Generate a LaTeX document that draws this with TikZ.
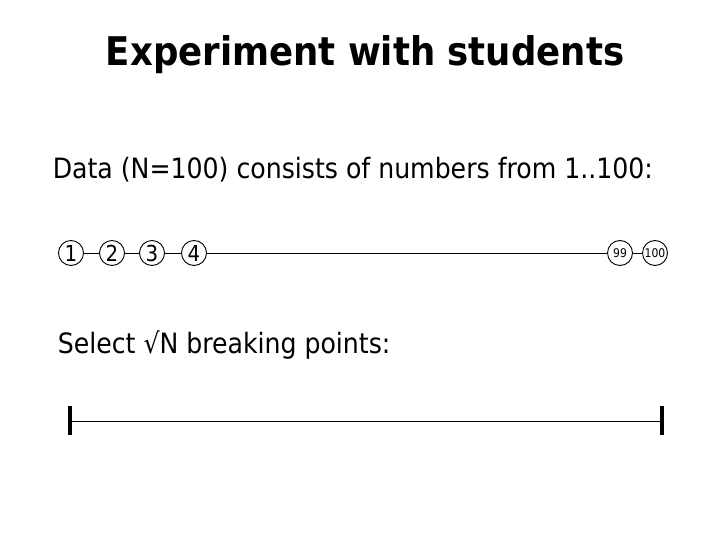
\documentclass[tikz,border=0pt]{standalone}
\usepackage{fontspec}
\setmainfont{DejaVu Sans Condensed}
\usetikzlibrary{positioning}

\begin{document}
\begin{tikzpicture}[x=1pt,y=-1pt,line width=0.9pt,
        num/.style={draw,circle,minimum size=25pt,inner sep=0pt,font=\fontsize{22}{24}\selectfont},
        smallnum/.style={num,font=\fontsize{12}{14}\selectfont},
        bar/.style={line width=3.5pt}]
        \useasboundingbox (0,0) rectangle (720,540);

        \node[font=\bfseries\fontsize{39.5}{44}\selectfont] (title) at (365,55) {Experiment with students};
        \node[anchor=west,font=\fontsize{28}{32}\selectfont] (data) at (49,170) {Data (N=100) consists of numbers from 1..100:};

        \node[num] (c1) at (71,253) {1};
        \node[num] (c2) at (112,253) {2};
        \node[num] (c3) at (152,253) {3};
        \node[num] (c4) at (194,253) {4};
        \node[smallnum] (c99) at (620,253) {99};
        \node[smallnum] (c100) at (655,253) {100};

        \draw (c1)--(c2);
        \draw (c2)--(c3);
        \draw (c3)--(c4);
        \draw (c4)--(c99);
        \draw (c99)--(c100);

        \node[anchor=west,font=\fontsize{28}{32}\selectfont] (select) at (54,345) {Select √N breaking points:};

        \coordinate (left) at (70,421);
        \coordinate (right) at (662,421);
        \draw (left)--(right);
        \draw[bar] ([yshift=-14pt]left)--([yshift=15pt]left);
        \draw[bar] ([yshift=-14pt]right)--([yshift=15pt]right);
    \end{tikzpicture}
\end{document}
